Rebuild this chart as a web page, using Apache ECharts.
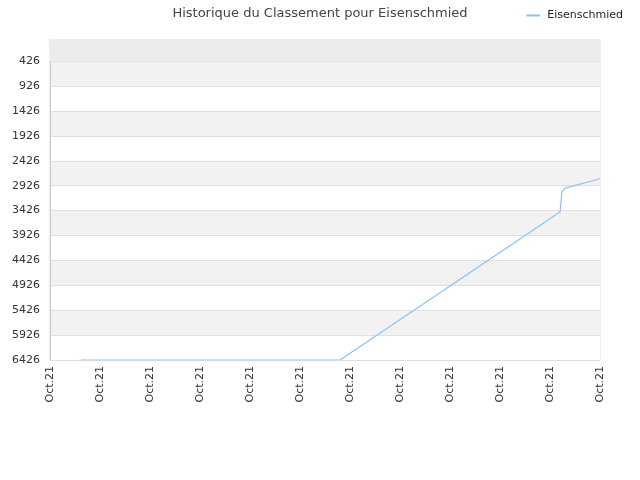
<!DOCTYPE html>
<html>
<head>
<meta charset="utf-8">
<script src="https://cdn.jsdelivr.net/npm/echarts@6/dist/echarts.min.js"></script>
<style>html,body{margin:0;padding:0;background:#fff;}#c{width:640px;height:480px;}</style>
</head>
<body>
<div id="c"></div>
<script>
var seriesName = 'Eisenschmied';
var dates = ['2021-10-05T05:45:00Z', '2021-10-15T14:24:00Z', '2021-10-24T09:36:00Z', '2021-10-24T11:30:00Z', '2021-10-24T14:30:00Z', '2021-10-26T00:00:00Z'];
var ranks = [6426, 6426, 3456, 3046, 2976, 2786];
var yTicks = [426, 926, 1426, 1926, 2426, 2926, 3426, 3926, 4426, 4926, 5426, 5926, 6426];
var xLabel = 'Oct.21';
var xStart = '2021-10-04T00:00:00Z';
var xEnd = '2021-10-26T00:00:00Z';

var DAY = 86400000;
var chart = echarts.init(document.getElementById('c'));
var data = dates.map(function (d, i) { return [Date.parse(d), ranks[i]]; });

chart.setOption({
  animation: false,
  backgroundColor: '#fff',
  textStyle: { fontFamily: 'DejaVu Sans' },
  title: {
    text: 'Historique du Classement pour ' + seriesName,
    left: 'center', top: 2,
    textStyle: { fontSize: 13, fontWeight: 'normal', color: '#444', fontFamily: 'DejaVu Sans' }
  },
  legend: {
    data: [seriesName], right: 12, top: 5,
    itemWidth: 14, itemHeight: 2, itemGap: 10, icon: 'rect',
    textStyle: { fontSize: 11, color: '#222', padding: [0, 0, 0, 2] }
  },
  grid: { left: 50, right: 40, top: 40, bottom: 120, show: true, borderColor: '#ddd', borderWidth: 1, backgroundColor: 'transparent' },
  xAxis: {
    type: 'value',
    min: Date.parse(xStart), max: Date.parse(xEnd), interval: 2 * DAY,
    axisLine: { show: true, lineStyle: { color: '#ccc' } },
    axisTick: { show: false },
    splitLine: { show: false },
    axisLabel: { rotate: 90, color: '#333', fontSize: 11, margin: 6, formatter: function () { return xLabel; }, showMinLabel: true, showMaxLabel: true }
  },
  yAxis: {
    type: 'value', inverse: true, min: 0, max: 6426,
    axisLine: { show: true, lineStyle: { color: '#ccc' } },
    axisTick: { show: false, customValues: yTicks },
    axisLabel: { color: '#333', fontSize: 11, margin: 10, customValues: yTicks, formatter: function (v) { return String(v); } },
    splitLine: { show: true, lineStyle: { color: '#e0e0e0' } },
    splitArea: { show: true, areaStyle: { color: ['#f2f2f2', '#ffffff'] } }
  },
  series: [{
    name: seriesName, type: 'line', data: data, showSymbol: false, symbol: 'none',
    lineStyle: { color: '#8fbff5', width: 1.2 }, itemStyle: { color: '#8fbff5' },
    markArea: { silent: true, itemStyle: { color: '#ececec' }, data: [[{ yAxis: 0 }, { yAxis: yTicks[0] }]] }
  }]
});
</script>
</body>
</html>
